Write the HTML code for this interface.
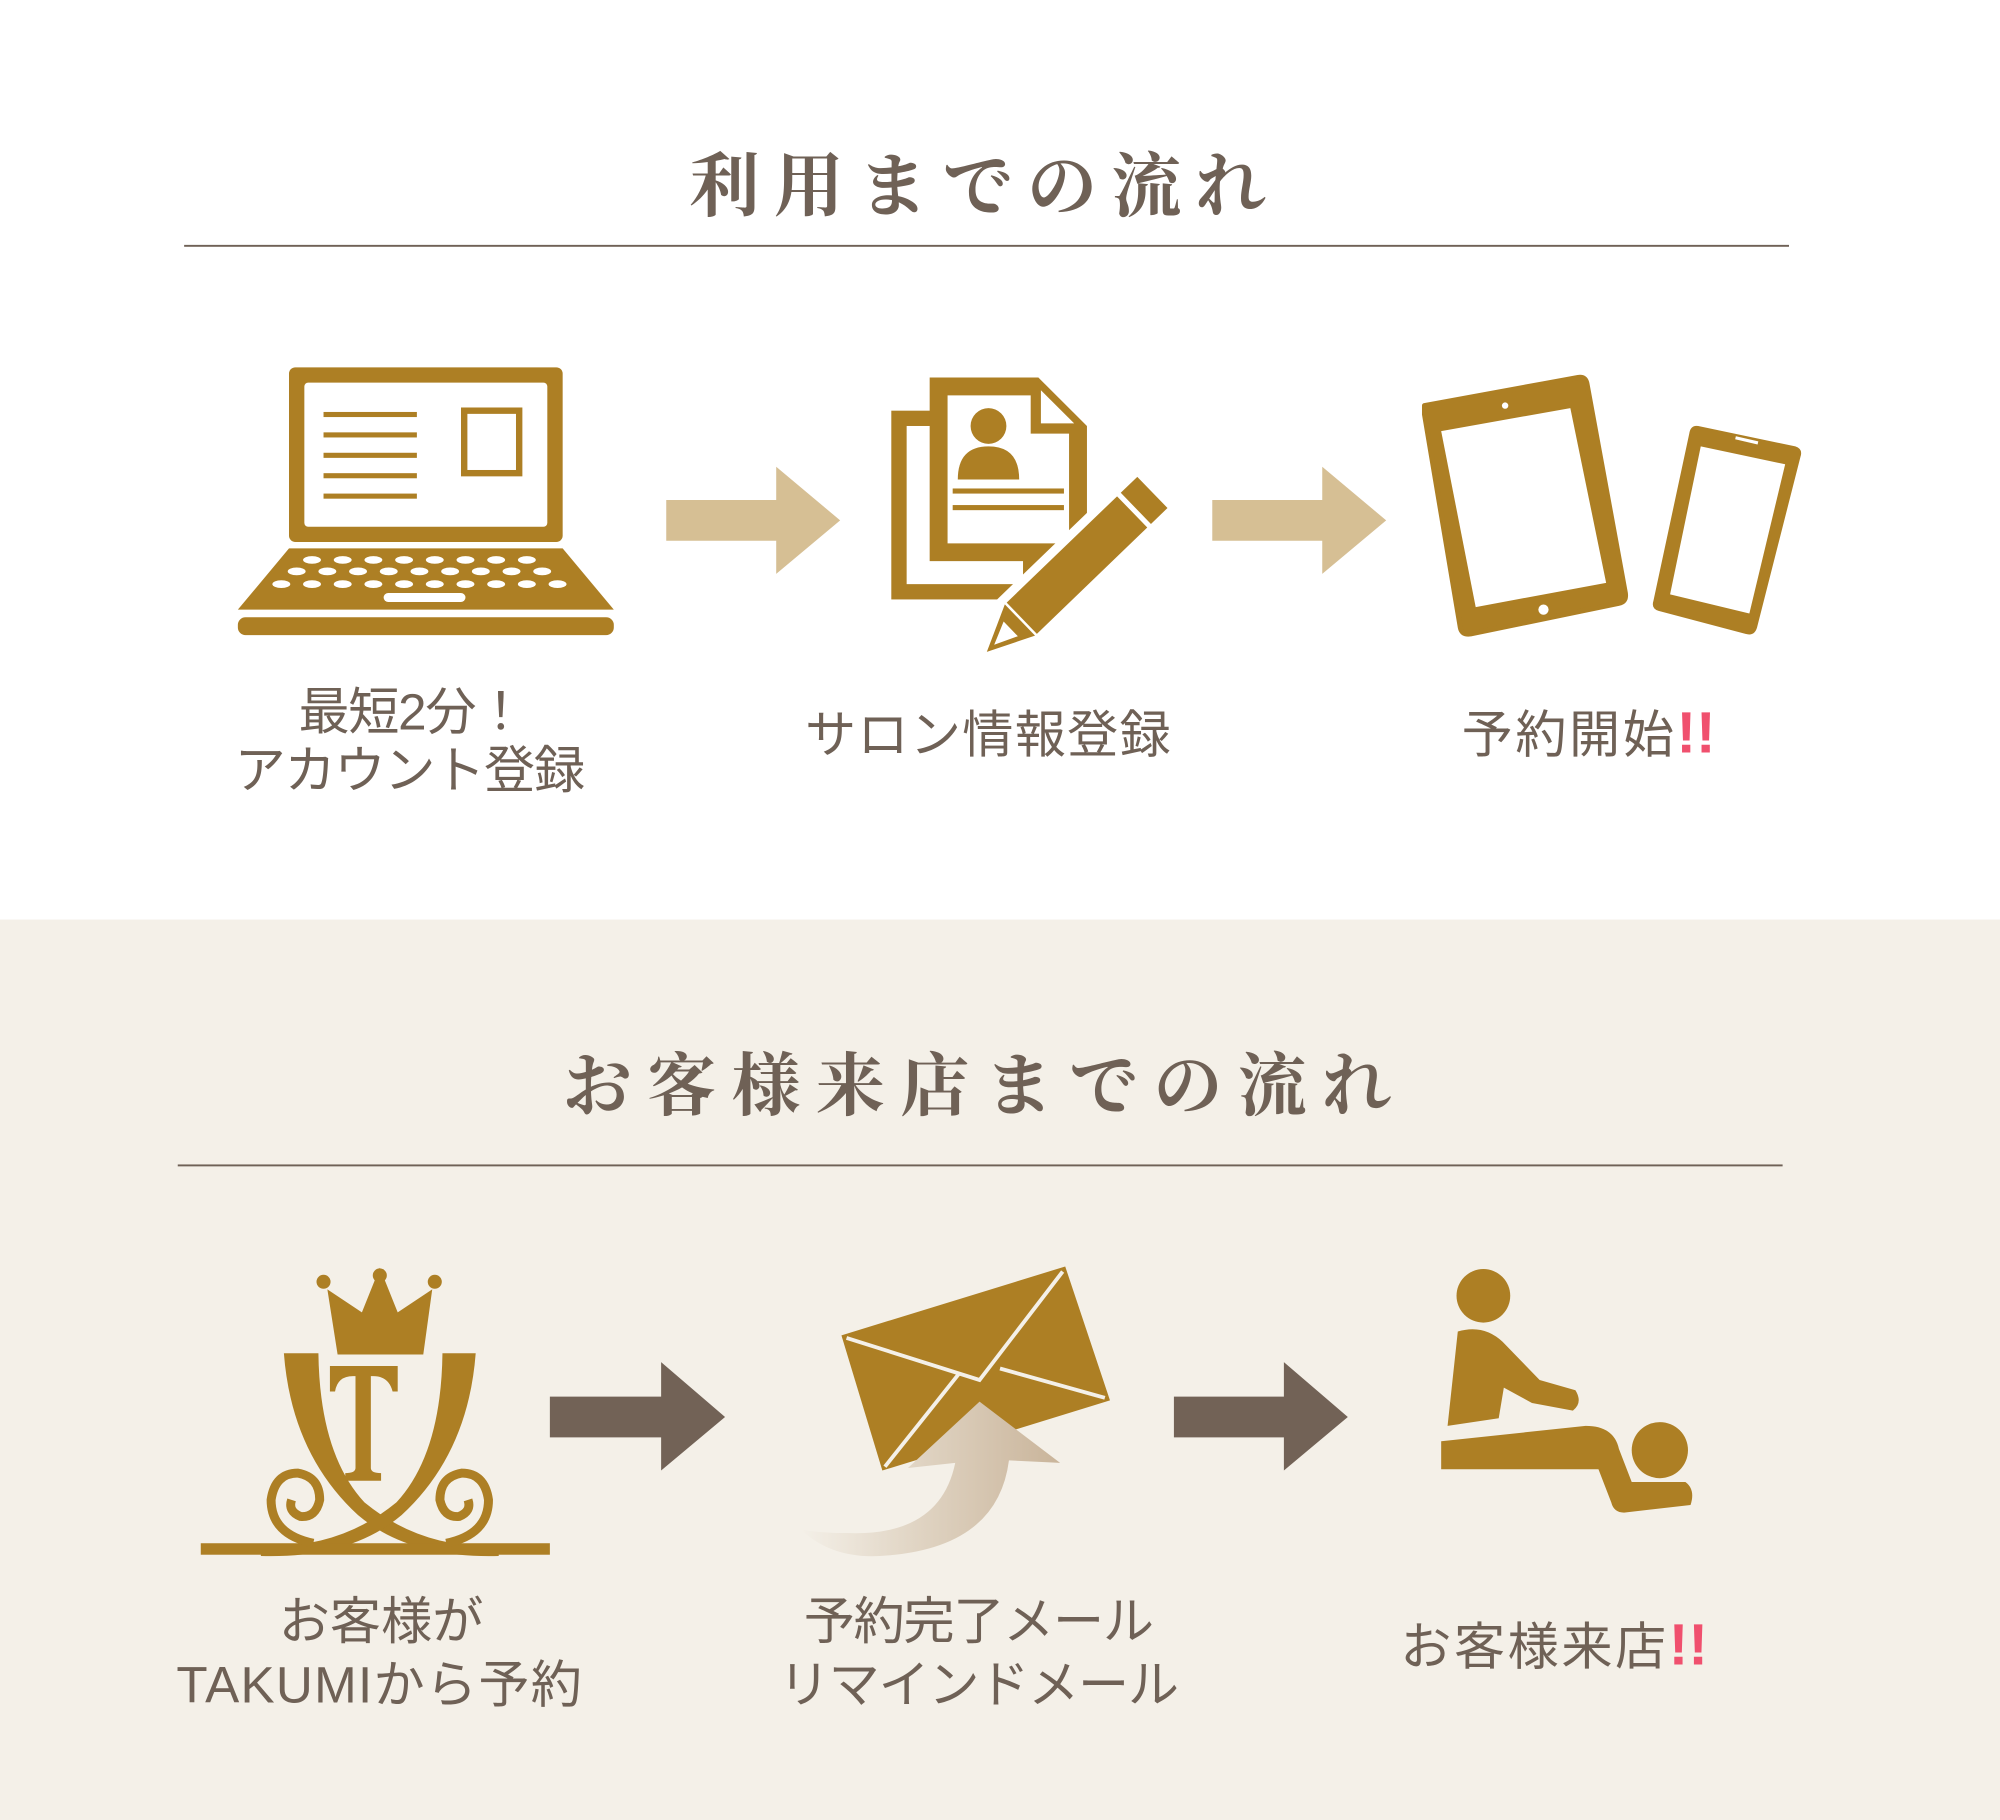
<!DOCTYPE html>
<html><head><meta charset="utf-8"><style>
html,body{margin:0;padding:0;background:#fff}
svg{display:block}
.t{font-family:"Liberation Serif","Noto Serif CJK SC",serif;font-weight:bold;fill:#6f6156}
.l{font-family:"Liberation Sans","Noto Sans CJK JP",sans-serif;fill:#6f6156;font-size:40px}
.p{fill:#f0506e;font-weight:bold;font-size:46px}
</style></head><body>
<svg width="2000" height="1820" viewBox="0 0 1564 1427" preserveAspectRatio="none" xmlns="http://www.w3.org/2000/svg">
<defs>
<linearGradient id="g" x1="626" y1="0" x2="830" y2="0" gradientUnits="userSpaceOnUse">
<stop offset="0" stop-color="#f4f0e8"/>
<stop offset="0.45" stop-color="#e0d4c3"/>
<stop offset="1" stop-color="#c9b49a"/>
</linearGradient>
</defs>
<rect x="0" y="0" width="1564" height="721" fill="#fff"/>
<rect x="0" y="721" width="1564" height="706" fill="#f4f0e8"/>

<text class="t" x="770" y="165" font-size="55" text-anchor="middle" letter-spacing="11">利用までの流れ</text>
<rect x="144" y="192" width="1255" height="1.5" fill="#6f6156"/>
<text class="t" x="770" y="870" font-size="54" text-anchor="middle" letter-spacing="12">お客様来店までの流れ</text>
<rect x="139" y="913" width="1255" height="1.5" fill="#6f6156"/>

<!-- laptop -->
<g fill="#ad7f24">
<rect x="226" y="288" width="214" height="137" rx="5"/>
<path d="M226 430 H440 L480 478 H186 Z"/>
<rect x="186" y="484" width="294" height="14" rx="6"/>
</g>
<rect x="238" y="300" width="190" height="113" rx="3" fill="#fff"/>
<g fill="#ad7f24">
<rect x="253" y="323" width="73" height="4"/><rect x="253" y="339" width="73" height="4"/><rect x="253" y="355" width="73" height="4"/><rect x="253" y="371" width="73" height="4"/><rect x="253" y="387" width="73" height="4"/>
</g>
<rect x="363" y="322" width="43" height="49" fill="none" stroke="#ad7f24" stroke-width="5"/>
<g fill="#fff">
<ellipse cx="244" cy="439" rx="7" ry="3"/><ellipse cx="268" cy="439" rx="7" ry="3"/><ellipse cx="292" cy="439" rx="7" ry="3"/><ellipse cx="316" cy="439" rx="7" ry="3"/><ellipse cx="340" cy="439" rx="7" ry="3"/><ellipse cx="364" cy="439" rx="7" ry="3"/><ellipse cx="388" cy="439" rx="7" ry="3"/><ellipse cx="412" cy="439" rx="7" ry="3"/>
<ellipse cx="232" cy="448" rx="7" ry="3"/><ellipse cx="256" cy="448" rx="7" ry="3"/><ellipse cx="280" cy="448" rx="7" ry="3"/><ellipse cx="304" cy="448" rx="7" ry="3"/><ellipse cx="328" cy="448" rx="7" ry="3"/><ellipse cx="352" cy="448" rx="7" ry="3"/><ellipse cx="376" cy="448" rx="7" ry="3"/><ellipse cx="400" cy="448" rx="7" ry="3"/><ellipse cx="424" cy="448" rx="7" ry="3"/>
<ellipse cx="220" cy="458" rx="7" ry="3"/><ellipse cx="244" cy="458" rx="7" ry="3"/><ellipse cx="268" cy="458" rx="7" ry="3"/><ellipse cx="292" cy="458" rx="7" ry="3"/><ellipse cx="316" cy="458" rx="7" ry="3"/><ellipse cx="340" cy="458" rx="7" ry="3"/><ellipse cx="364" cy="458" rx="7" ry="3"/><ellipse cx="388" cy="458" rx="7" ry="3"/><ellipse cx="412" cy="458" rx="7" ry="3"/><ellipse cx="436" cy="458" rx="7" ry="3"/>
<rect x="300" y="465" width="64" height="7" rx="3.5"/>
</g>

<!-- light arrows -->
<path d="M521 392 H607 V366 L657 408 L607 450 V424 H521 Z" fill="#d6bf94"/>
<path d="M948 392 H1034 V366 L1084 408 L1034 450 V424 H948 Z" fill="#d6bf94"/>

<!-- document -->
<rect x="703" y="328" width="103" height="136" fill="none" stroke="#ad7f24" stroke-width="12"/>
<path d="M727 296 H812 L850 334 V440 H727 Z" fill="#ad7f24"/>
<path d="M741 310 H806 V340 H836 V426 H741 Z" fill="#fff"/>
<path d="M814 306 L840 332 H814 Z" fill="#fff"/>
<g fill="#ad7f24">
<circle cx="773" cy="334" r="14"/>
<path d="M749 376 Q749 350 773 350 Q797 350 797 376 Z"/>
<rect x="745" y="383" width="87" height="4"/><rect x="745" y="396" width="87" height="4"/>
</g>
<g transform="translate(835 450) rotate(-44)">
<rect x="-60" y="-24" width="150" height="48" fill="#fff"/>
<rect x="-50" y="-17" width="120" height="34" fill="#ad7f24"/>
<rect x="74" y="-17" width="18" height="34" fill="#ad7f24"/>
<path d="M-52 -17 L-88 0 L-52 17 Z" fill="#ad7f24"/>
<path d="M-62 -8 L-80 0 L-62 8 Z" fill="#fff"/>
</g>

<!-- tablet & phone -->
<g fill="#ad7f24">
<path d="M1114 318 L1234 296 Q1240 295 1241 301 L1271 465 Q1272 472 1266 473 L1150 497 Q1143 498 1142 492 L1114 325 Z" stroke="#ad7f24" stroke-width="4" stroke-linejoin="round"/>
<path d="M1328 334 L1404 350 Q1410 352 1408 358 L1374 492 Q1372 499 1365 497 L1297 479 Q1291 477 1293 471 L1321 340 Q1322 333 1328 334 Z"/>
</g>
<path d="M1127 338 L1228 320 L1256 457 L1154 476 Z" fill="#fff"/>
<circle cx="1207" cy="478" r="4" fill="#fff"/><circle cx="1177" cy="318" r="2.5" fill="#fff"/>
<path d="M1330 350 L1396 364 L1368 481 L1306 466 Z" fill="#fff"/>
<rect x="1357" y="344" width="18" height="2.5" fill="#fff" transform="rotate(13 1366 345)"/>

<!-- top labels -->
<text class="l" x="322" y="572" text-anchor="middle" letter-spacing="-1">最短2分！</text>
<text class="l" x="320" y="618" text-anchor="middle" letter-spacing="-1">アカウント登録</text>
<text class="l" x="773" y="590" text-anchor="middle" letter-spacing="1">サロン情報登録</text>
<text class="l" x="1143" y="590" letter-spacing="2">予約開始<tspan class="p" letter-spacing="0">!!</tspan></text>

<!-- crown logo -->
<g fill="#ad7f24">
<circle cx="253" cy="1005" r="5.5"/><circle cx="297" cy="1000" r="5.5"/><circle cx="340" cy="1005" r="5.5"/>
<path d="M256 1011 L283 1029 L297 994 L311 1029 L338 1011 L331 1062 H264 Z"/>
<path d="M222 1061 H249 Q250 1140 285 1178 Q330 1215 390 1212 L390 1220 Q320 1222 280 1188 Q228 1140 222 1061 Z"/>
<path d="M372 1061 H346 Q345 1140 310 1178 Q265 1215 204 1212 L204 1220 Q274 1222 314 1188 Q366 1140 372 1061 Z"/>
<rect x="157" y="1210" width="273" height="9"/>
<path d="M258 1071 H311 V1091 H307 Q304 1079 292 1079 H290 V1151 Q290 1155 298 1155 V1161 H270 V1155 Q278 1155 278 1151 V1079 H276 Q264 1079 262 1091 H258 Z"/>
</g>
<g fill="none" stroke="#ad7f24" stroke-width="7">
<path d="M245 1210 Q212 1203 212 1176 Q215 1155 233 1155 Q250 1158 250 1176 Q247 1190 235 1189 Q225 1185 228 1176"/>
<path d="M349 1210 Q382 1203 382 1176 Q379 1155 361 1155 Q344 1158 344 1176 Q347 1190 359 1189 Q369 1185 366 1176"/>
</g>

<!-- dark arrows -->
<path d="M430 1095 H517 V1068 L567 1111 L517 1153 V1127 H430 Z" fill="#726256"/>
<path d="M918 1095 H1004 V1068 L1054 1111 L1004 1153 V1127 H918 Z" fill="#726256"/>

<!-- envelope -->
<path d="M658 1047 L833 993 L868 1098 L690 1153 Z" fill="#ad7f24"/>
<g fill="none" stroke="#f4f0e8" stroke-width="3">
<path d="M662 1049 L766 1082 L831 997"/>
<path d="M692 1150 L750 1077"/><path d="M864 1096 L782 1073"/>
</g>
<path d="M747 1147 Q735 1205 662 1202 Q640 1202 626 1199 Q650 1222 688 1220 Q780 1215 789 1145 L829 1147 L766 1099 L710 1151 Z" fill="url(#g)"/>

<!-- massage -->
<g fill="#ad7f24">
<circle cx="1160" cy="1016" r="21"/>
<path d="M1140 1044 Q1160 1038 1175 1052 L1204 1082 L1232 1090 Q1238 1100 1230 1106 L1198 1100 L1176 1088 L1172 1112 L1132 1118 Z"/>
<path d="M1127 1130 L1240 1118 Q1262 1118 1266 1136 L1276 1162 L1318 1162 Q1326 1168 1322 1180 L1270 1186 Q1262 1186 1260 1178 L1250 1152 L1127 1152 Z"/>
<circle cx="1298" cy="1137" r="22"/>
</g>

<!-- bottom labels -->
<text class="l" x="298" y="1285" text-anchor="middle">お客様が</text>
<text class="l" x="297" y="1335" text-anchor="middle" letter-spacing="1">TAKUMIから予約</text>
<text class="l" x="765" y="1285" text-anchor="middle" letter-spacing="-1">予約完了メール</text>
<text class="l" x="765" y="1335" text-anchor="middle" letter-spacing="-1">リマインドメール</text>
<text class="l" x="1095" y="1305" letter-spacing="2">お客様来店<tspan class="p" letter-spacing="0">!!</tspan></text>
</svg>
</body></html>
